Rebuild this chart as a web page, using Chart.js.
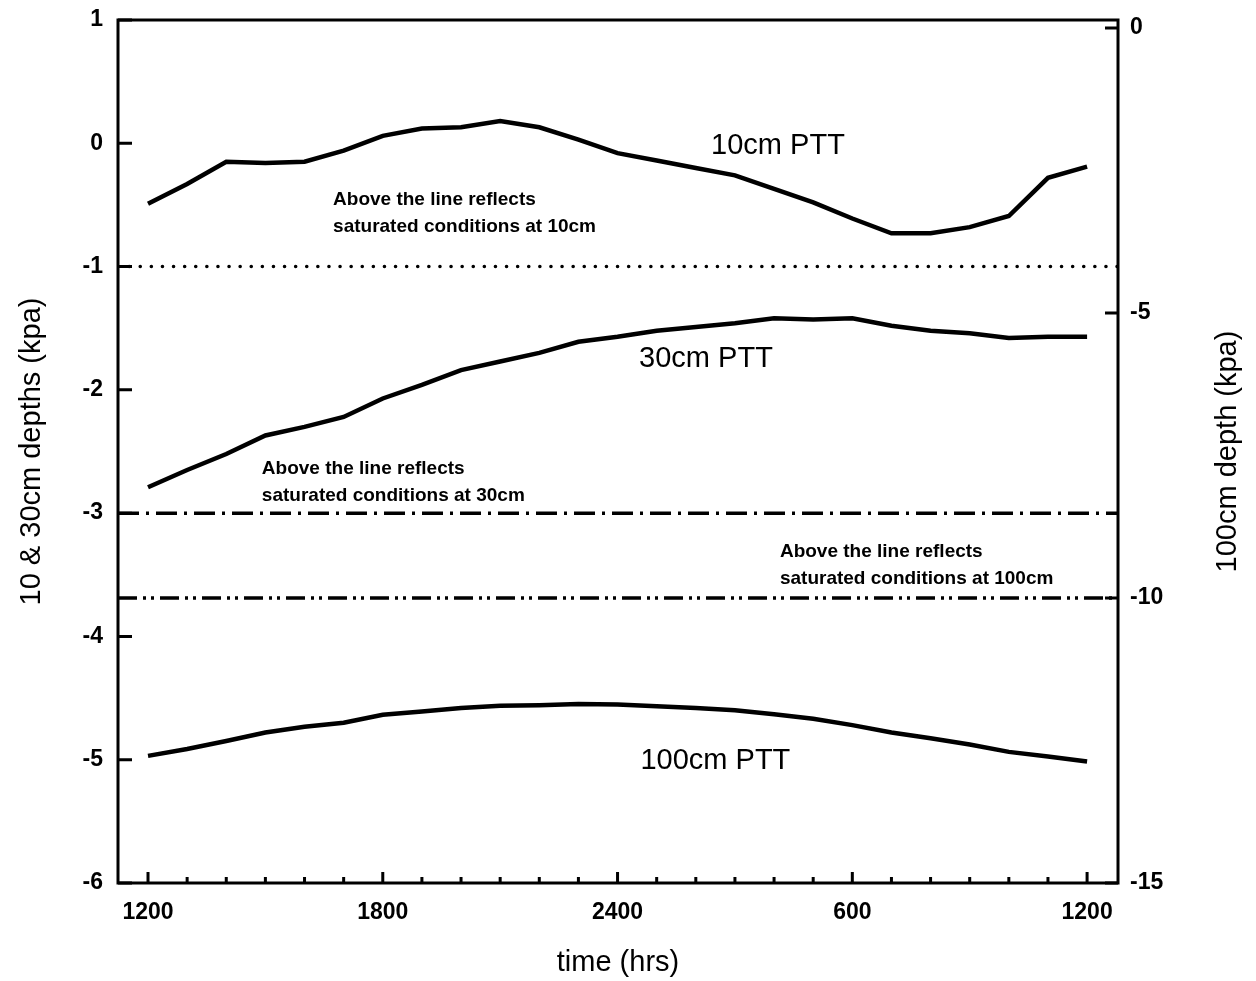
<!DOCTYPE html>
<html>
<head>
<meta charset="utf-8">
<title>PTT tensiometer readings</title>
<script src="https://cdn.jsdelivr.net/npm/chart.js@4.4.1/dist/chart.umd.min.js"></script>
<style>
  html, body { margin: 0; padding: 0; background: #fff; }
  #wrap { width: 1256px; height: 981px; position: relative; }
</style>
</head>
<body>
<div id="wrap"><canvas id="chart"></canvas></div>
<script>
// hours elapsed since 1200 on the first day
const hours = [0, 1, 2, 3, 4, 5, 6, 7, 8, 9, 10, 11, 12, 13, 14, 15, 16, 17, 18, 19, 20, 21, 22, 23, 24];

// 10cm and 30cm readings (left axis, kpa)
const ptt10 = [-0.49, -0.33, -0.15, -0.16, -0.15, -0.06, 0.06, 0.12, 0.13, 0.18, 0.13, 0.03, -0.08,
  -0.14, -0.20, -0.26, -0.37, -0.48, -0.61, -0.73, -0.73, -0.68, -0.59, -0.28, -0.19];
const ptt30 = [-2.79, -2.65, -2.52, -2.37, -2.30, -2.22, -2.07, -1.96, -1.84, -1.77, -1.70, -1.61, -1.57,
  -1.52, -1.49, -1.46, -1.42, -1.43, -1.42, -1.48, -1.52, -1.54, -1.58, -1.57, -1.57];

// 100cm readings (right axis, kpa)
const ptt100 = [-12.77, -12.65, -12.51, -12.36, -12.26, -12.19, -12.05, -11.99, -11.93, -11.89, -11.88, -11.86, -11.87,
  -11.90, -11.93, -11.97, -12.04, -12.12, -12.23, -12.36, -12.46, -12.57, -12.70, -12.78, -12.87];

// saturation thresholds
const sat10 = -1;    // left axis
const sat30 = -3;    // left axis
const sat100 = -10;  // right axis

const xTickHours = [0, 6, 12, 18, 24];
const xTickLabels = ['1200', '1800', '2400', '600', '1200'];
const leftTicks = [1, 0, -1, -2, -3, -4, -5, -6];
const rightTicks = [0, -5, -10, -15];

const X_MIN = -0.767, X_MAX = 24.79;

const FONT = "'Liberation Sans', Arial, Helvetica, sans-serif";

// text placed on the plot, positioned in data units
const notes = [
  { text: '10cm PTT', x: 16.1, y: -0.02, axis: 'y', size: 29, weight: 'normal', align: 'center' },
  { text: '30cm PTT', x: 14.26, y: -1.75, axis: 'y', size: 29, weight: 'normal', align: 'center' },
  { text: '100cm PTT', x: 14.5, y: -12.86, axis: 'y2', size: 29, weight: 'normal', align: 'center' },
  { text: 'Above the line reflects', x: 4.73, y: -0.455, axis: 'y', size: 19, weight: 'bold', align: 'left' },
  { text: 'saturated conditions at 10cm', x: 4.73, y: -0.675, axis: 'y', size: 19, weight: 'bold', align: 'left' },
  { text: 'Above the line reflects', x: 2.91, y: -2.64, axis: 'y', size: 19, weight: 'bold', align: 'left' },
  { text: 'saturated conditions at 30cm', x: 2.91, y: -2.86, axis: 'y', size: 19, weight: 'bold', align: 'left' },
  { text: 'Above the line reflects', x: 16.15, y: -9.19, axis: 'y2', size: 19, weight: 'bold', align: 'left' },
  { text: 'saturated conditions at 100cm', x: 16.15, y: -9.67, axis: 'y2', size: 19, weight: 'bold', align: 'left' }
];

function series(values) {
  return values.map((v, i) => ({ x: hours[i], y: v }));
}
function flat(value) {
  return [{ x: X_MIN, y: value }, { x: X_MAX, y: value }];
}

const framePlugin = {
  id: 'frame',
  afterDatasetsDraw(chart) {
    const { ctx, chartArea: a, scales } = chart;
    ctx.save();
    ctx.strokeStyle = '#000';
    ctx.fillStyle = '#000';
    ctx.lineWidth = 3;
    ctx.strokeRect(a.left, a.top, a.right - a.left, a.bottom - a.top);

    // tick marks point into the plot
    ctx.beginPath();
    leftTicks.forEach(v => {
      const y = scales.y.getPixelForValue(v);
      ctx.moveTo(a.left, y);
      ctx.lineTo(a.left + 14, y);
    });
    rightTicks.forEach(v => {
      const y = scales.y2.getPixelForValue(v);
      ctx.moveTo(a.right, y);
      ctx.lineTo(a.right - 13, y);
    });
    hours.forEach(h => {
      const x = scales.x.getPixelForValue(h);
      const len = xTickHours.includes(h) ? 11 : 6;
      ctx.moveTo(x, a.bottom);
      ctx.lineTo(x, a.bottom - len);
    });
    ctx.stroke();

    ctx.textBaseline = 'middle';
    notes.forEach(n => {
      ctx.font = n.weight + ' ' + n.size + 'px ' + FONT;
      ctx.textAlign = n.align;
      ctx.fillText(n.text, scales.x.getPixelForValue(n.x), scales[n.axis].getPixelForValue(n.y));
    });

    // right axis title reads bottom to top
    ctx.font = 'normal 29px ' + FONT;
    ctx.textAlign = 'center';
    ctx.translate(1228, (a.top + a.bottom) / 2);
    ctx.rotate(-Math.PI / 2);
    ctx.fillText('100cm depth (kpa)', 0, 0);
    ctx.restore();
  }
};

const lineStyle = { borderColor: '#000', borderWidth: 4.5, pointRadius: 0, tension: 0, fill: false };
const tickFont = { family: FONT, size: 23, weight: 'bold' };
const titleFont = { family: FONT, size: 29 };

new Chart(document.getElementById('chart'), {
  type: 'line',
  data: {
    datasets: [
      Object.assign({ label: '10cm PTT', data: series(ptt10), yAxisID: 'y' }, lineStyle),
      Object.assign({ label: '30cm PTT', data: series(ptt30), yAxisID: 'y' }, lineStyle),
      Object.assign({ label: '100cm PTT', data: series(ptt100), yAxisID: 'y2' }, lineStyle),
      { label: 'saturated at 10cm', data: flat(sat10), yAxisID: 'y', borderColor: '#000', borderWidth: 3.5,
        borderDash: [0.1, 11], borderCapStyle: 'round', pointRadius: 0 },
      { label: 'saturated at 30cm', data: flat(sat30), yAxisID: 'y', borderColor: '#000', borderWidth: 3.5,
        borderDash: [21, 7, 3, 7], pointRadius: 0 },
      { label: 'saturated at 100cm', data: flat(sat100), yAxisID: 'y2', borderColor: '#000', borderWidth: 3.5,
        borderDash: [19, 6, 3, 5, 3, 6], pointRadius: 0 }
    ]
  },
  options: {
    responsive: true,
    maintainAspectRatio: false,
    animation: false,
    layout: { padding: { top: 20, left: 0, right: 0, bottom: 0 } },
    plugins: { legend: { display: false }, tooltip: { enabled: false } },
    scales: {
      x: {
        type: 'linear',
        min: X_MIN,
        max: X_MAX,
        afterFit(s) { s.height = 98; s.paddingLeft = 0; s.paddingRight = 0; },
        afterBuildTicks(s) { s.ticks = xTickHours.map(v => ({ value: v })); },
        ticks: {
          autoSkip: false,
          maxRotation: 0,
          padding: 16,
          color: '#000',
          font: tickFont,
          callback: (v) => xTickLabels[xTickHours.indexOf(v)]
        },
        grid: { display: false, drawTicks: false },
        border: { display: false },
        title: { display: true, text: 'time (hrs)', color: '#000', font: titleFont, padding: { top: 0, bottom: 1 } }
      },
      y: {
        position: 'left',
        min: -6,
        max: 1,
        afterFit(s) { s.width = 118; s.paddingTop = 0; s.paddingBottom = 0; },
        afterBuildTicks(s) { s.ticks = leftTicks.map(v => ({ value: v })); },
        ticks: { padding: 15, color: '#000', font: tickFont },
        grid: { display: false, drawTicks: false },
        border: { display: false },
        title: { display: true, text: '10 & 30cm depths (kpa)', color: '#000', font: titleFont, padding: { top: 15, bottom: 0 } }
      },
      y2: {
        position: 'right',
        min: -15,
        max: 0.14,
        afterFit(s) { s.width = 138; s.paddingTop = 0; s.paddingBottom = 0; },
        afterBuildTicks(s) { s.ticks = rightTicks.map(v => ({ value: v })); },
        ticks: { padding: 12, color: '#000', font: tickFont },
        grid: { display: false, drawTicks: false },
        border: { display: false }
      }
    }
  },
  plugins: [framePlugin]
});
</script>
</body>
</html>
